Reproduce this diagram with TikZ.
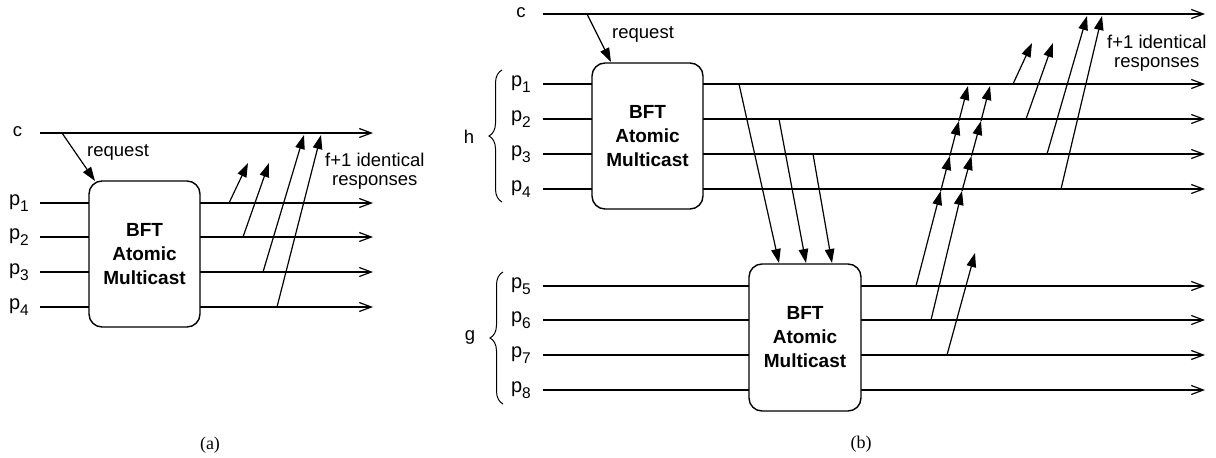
\documentclass[tikz,border=0pt]{standalone}
\usepackage{fontspec}
\setmainfont{Liberation Sans}
\newfontfamily\serifcap{Liberation Serif}
\usetikzlibrary{arrows.meta,decorations.pathreplacing,calc}
\newcommand\plab[1]{{\fontsize{20}{20}\selectfont p}\raisebox{-6.5pt}{\fontsize{15.5}{15.5}\selectfont #1}}
\begin{document}
\begin{tikzpicture}[x=1pt,y=-1pt,
  tl/.style={line width=1.2pt,-{Straight Barb[length=12pt,width=9pt,line width=1.2pt]}},
  msg/.style={line width=1.2pt,-{Triangle[length=14pt,width=9.5pt]}},
  mbox/.style={draw,line width=1.4pt,rounded corners=13pt,fill=white,minimum width=111pt,minimum height=146pt,align=center,inner sep=0pt,font=\fontsize{19}{24}\selectfont\bfseries},
  lbl/.style={font=\fontsize{18.5}{20}\selectfont,inner sep=0pt},
  plabel/.style={lbl,anchor=base east},
  resp/.style={lbl,align=center,anchor=north west,font=\fontsize{18.5}{19}\selectfont},
  figcap/.style={font=\serifcap\fontsize{18}{20}\selectfont,inner sep=0pt},
  brc/.style={decorate,decoration={brace,amplitude=13pt,aspect=0.5},line width=1pt},
]
\useasboundingbox (0,0) rectangle (1216,458);

% ---------------- panel (a) ----------------
\foreach \n/\y in {c/133,1/203,2/237,3/272,4/307}{
  \coordinate (aS\n) at (40,\y);
  \coordinate (aE\n) at (373,\y);
  \draw[tl] (aS\n) -- (aE\n);
}
\node[lbl,anchor=base] (alc) at (17.5,136) {c};
\foreach \n/\y in {1/203,2/237,3/272,4/307}{
  \node[plabel] (al\n) at (29,\y+2) {\plab{\n}};
}
\node[mbox] (boxA) at (144.5,254) {BFT\\Atomic\\Multicast};
\coordinate (aReqS) at (62,133);
\coordinate (aReqT) at (95,181);
\draw[msg] (aReqS) -- (aReqT);
\node[lbl,anchor=base west] (areq) at (87,156) {request};

\coordinate (ar1s) at (229,203); \coordinate (ar1t) at (248,163);
\coordinate (ar2s) at (243,237); \coordinate (ar2t) at (269,163);
\coordinate (ar3s) at (263,272); \coordinate (ar3t) at (304,135);
\coordinate (ar4s) at (277,307); \coordinate (ar4t) at (321,135);
\foreach \i in {1,2,3,4}{ \draw[msg] (ar\i s) -- (ar\i t); }
\node[resp] (aresp) at (325,153) {f+1 identical\\responses};
\node[figcap] (capa) at (210,445) {(a)};

% ---------------- panel (b) ----------------
\foreach \n/\y in {c/14,1/84,2/119,3/154,4/189,5/286,6/320,7/355,8/390}{
  \coordinate (bS\n) at (543,\y);
  \coordinate (bE\n) at (1205,\y);
  \draw[tl] (bS\n) -- (bE\n);
}
\node[lbl,anchor=base] (blc) at (521,17) {c};
\foreach \n/\y in {1/84,2/119,3/154,4/189,5/286,6/320,7/355,8/390}{
  \node[plabel] (bl\n) at (531,\y+2) {\plab{\n}};
}
\node[mbox] (boxH) at (647.5,136) {BFT\\Atomic\\Multicast};
\node[mbox,minimum width=112pt,minimum height=147pt] (boxG) at (805,337.5) {BFT\\Atomic\\Multicast};

% braces
\coordinate (hb1) at (502,202); \coordinate (hb2) at (502,70);
\draw[brc] (hb1) -- (hb2);
\node[lbl] (hlab) at (469,137) {h};
\coordinate (gb1) at (503,404); \coordinate (gb2) at (503,272);
\draw[brc] (gb1) -- (gb2);
\node[lbl] (glab) at (470,337) {g};

% request
\coordinate (bReqS) at (587,14);
\coordinate (bReqT) at (611,62);
\draw[msg] (bReqS) -- (bReqT);
\node[lbl,anchor=base west] (breq) at (612,38) {request};

% h -> g
\coordinate (d1s) at (739,84);  \coordinate (d1t) at (779,263);
\coordinate (d2s) at (779,119); \coordinate (d2t) at (806,263);
\coordinate (d3s) at (813,154); \coordinate (d3t) at (832,263);
\foreach \i in {1,2,3}{ \draw[msg] (d\i s) -- (d\i t); }

% g -> h chains
\coordinate (u1s) at (916,286);
\coordinate (u1a) at (940.7,191);
\coordinate (u1b) at (949.8,156);
\coordinate (u1c) at (958.9,121);
\coordinate (u1d) at (968,86);
\draw[msg] (u1s) -- (u1a);
\draw[msg] (u1a) -- (u1b);
\draw[msg] (u1b) -- (u1c);
\draw[msg] (u1c) -- (u1d);
\coordinate (u2s) at (931,320);
\coordinate (u2a) at (962,191);
\coordinate (u2b) at (971.5,156);
\coordinate (u2c) at (981,121);
\coordinate (u2d) at (990,86);
\draw[msg] (u2s) -- (u2a);
\draw[msg] (u2a) -- (u2b);
\draw[msg] (u2b) -- (u2c);
\draw[msg] (u2c) -- (u2d);
\coordinate (u3s) at (947,355);
\coordinate (u3t) at (975,253);
\draw[msg] (u3s) -- (u3t);

% responses to client
\coordinate (e1s) at (1013,84);   \coordinate (e1t) at (1032,43);
\coordinate (e2s) at (1026,119);  \coordinate (e2t) at (1053,43);
\coordinate (e3s) at (1047,154);  \coordinate (e3t) at (1087,16);
\coordinate (e4s) at (1061,189);  \coordinate (e4t) at (1102,16);
\foreach \i in {1,2,3,4}{ \draw[msg] (e\i s) -- (e\i t); }
\node[resp] (bresp) at (1107,35) {f+1 identical\\responses};
\node[figcap] (capb) at (861,444) {(b)};
\end{tikzpicture}
\end{document}
